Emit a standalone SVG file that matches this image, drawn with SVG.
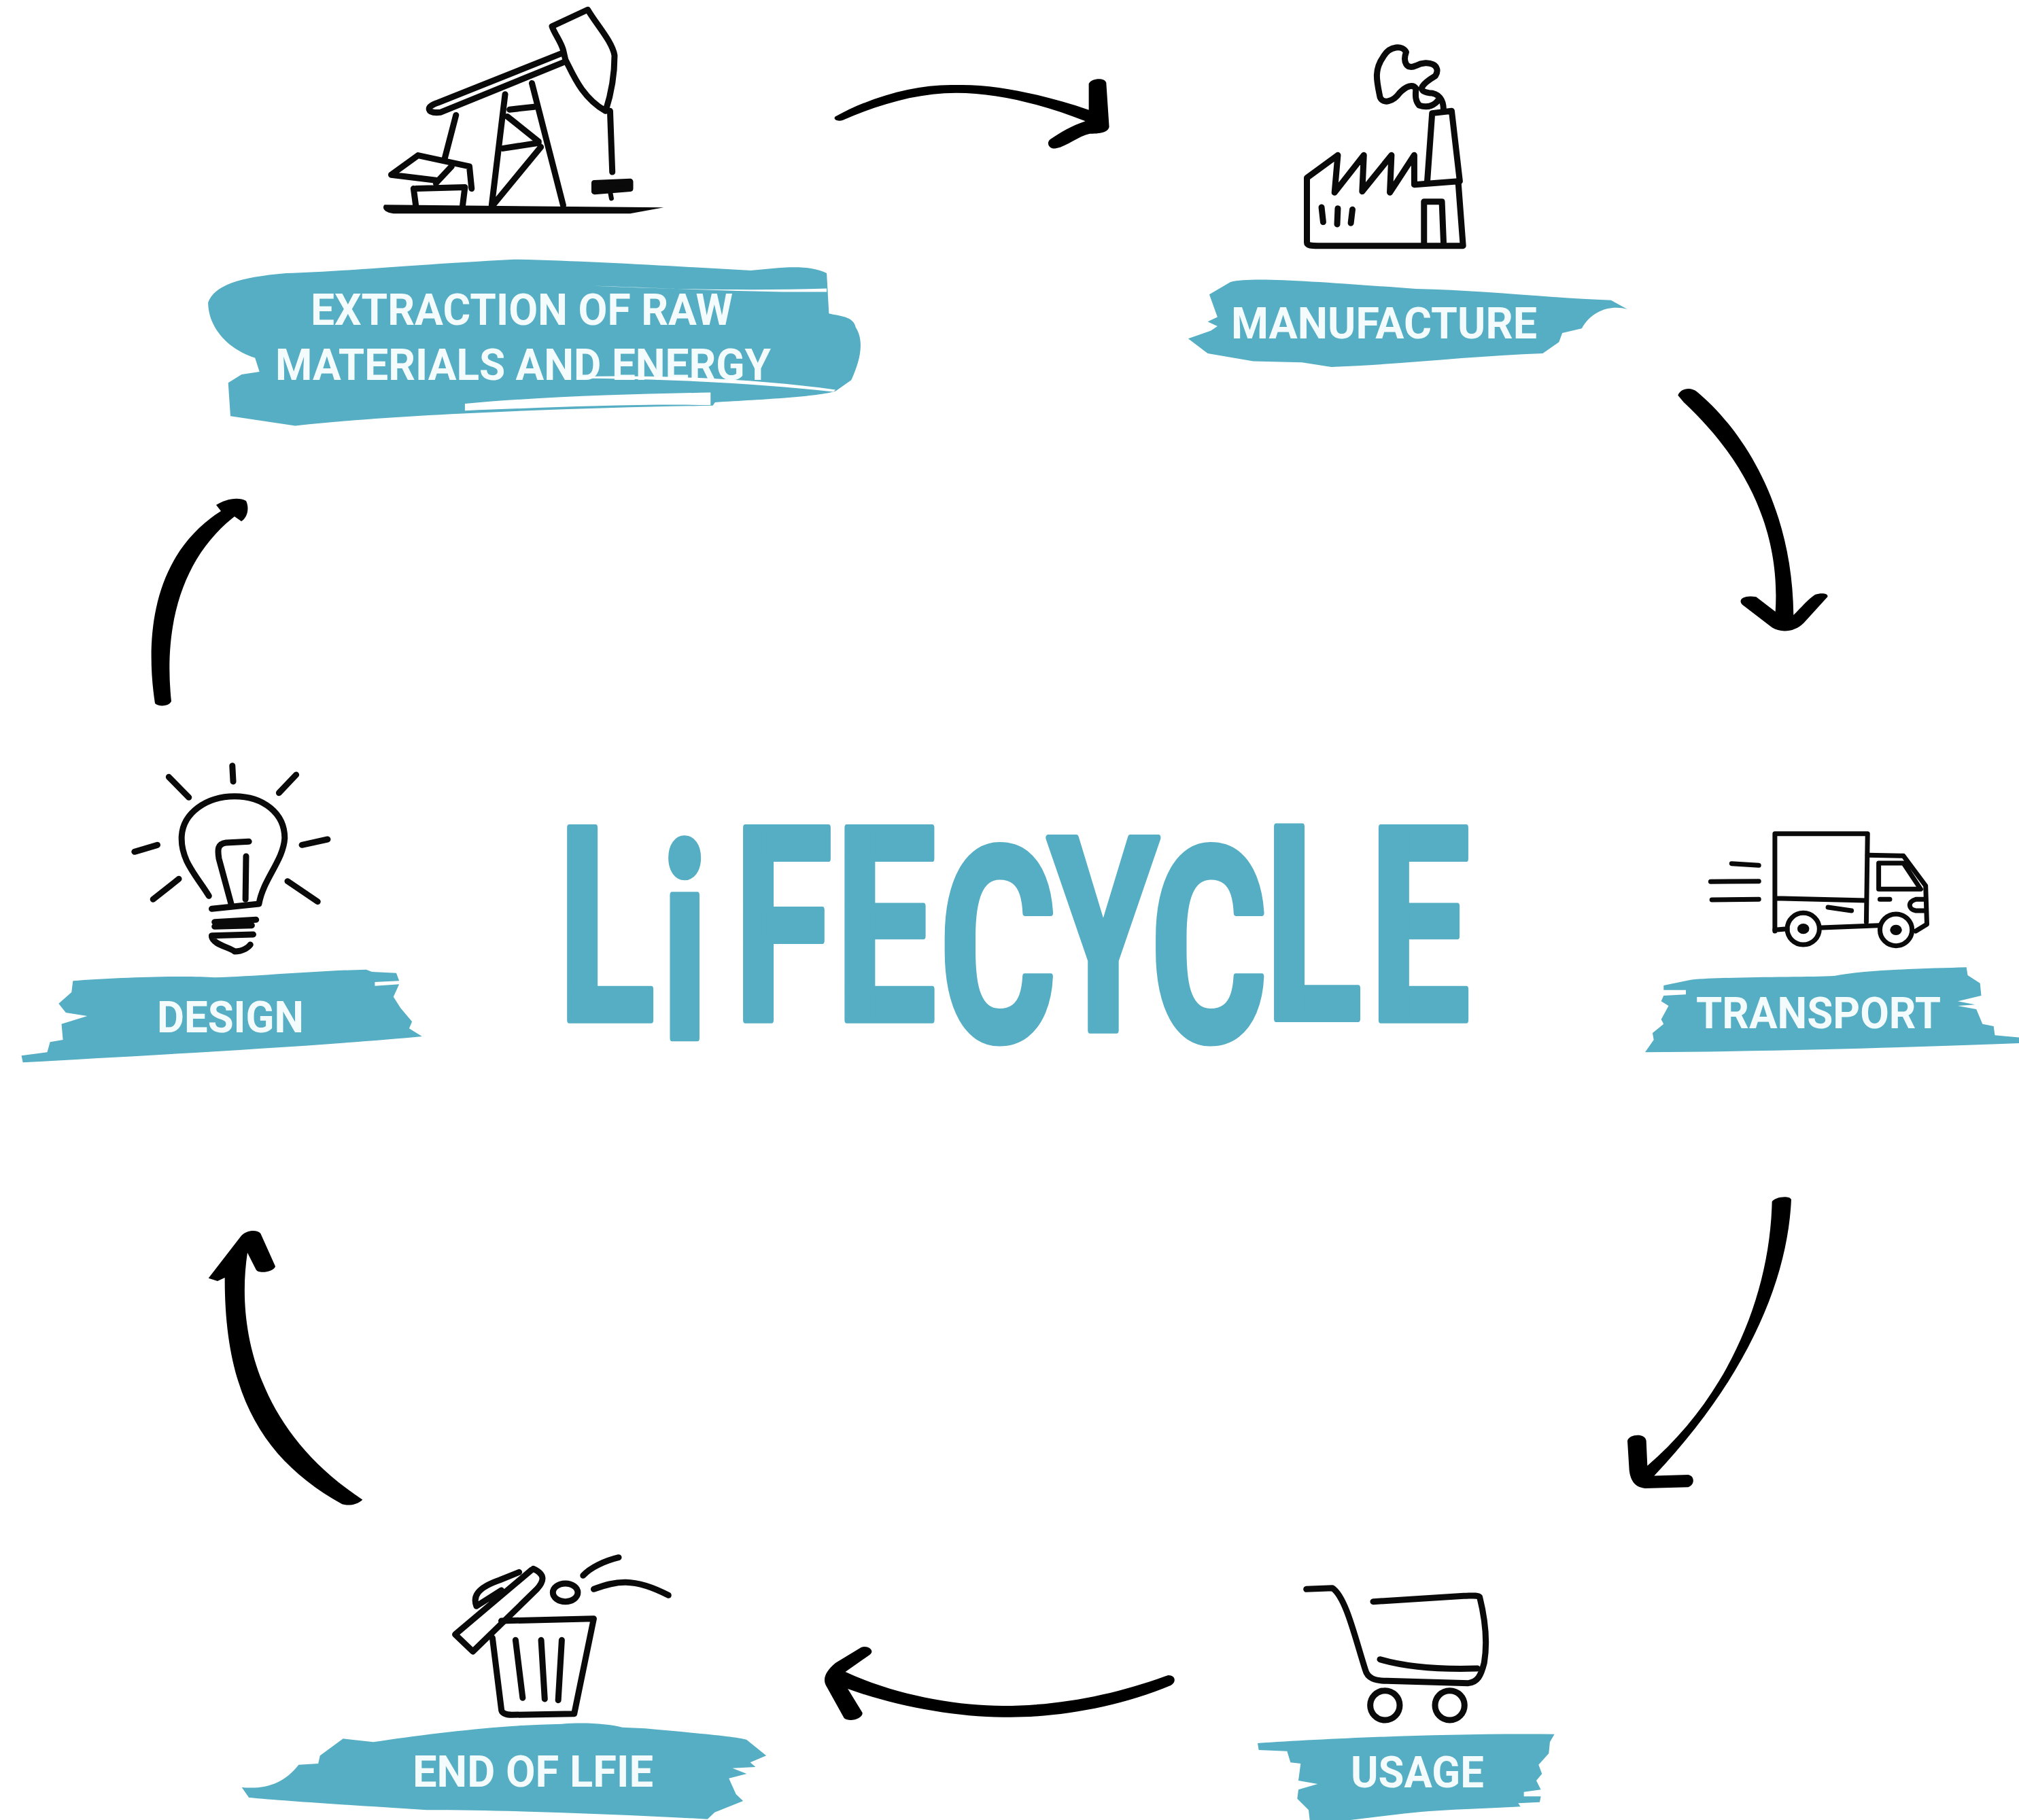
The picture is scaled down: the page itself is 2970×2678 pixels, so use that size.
<svg xmlns="http://www.w3.org/2000/svg" width="2970" height="2678" viewBox="0 0 2970 2678">
<style>
.ink{fill:none;stroke:#0a0a0a;stroke-width:9;stroke-linecap:round;stroke-linejoin:round;vector-effect:non-scaling-stroke}
.thin{stroke-width:7}
.solid{fill:#0a0a0a;stroke:none}
.brush{fill:#55aec3}
.streak{fill:#fff}
.lbl{font-family:Roboto,"Liberation Sans",sans-serif;font-weight:700;font-size:65px;fill:#f4fbfc}
.title{font-family:Roboto,"Liberation Sans",sans-serif;font-weight:700;font-size:240px;letter-spacing:4px;fill:#55aec3;stroke:#55aec3;stroke-width:8;stroke-linejoin:round;vector-effect:non-scaling-stroke}
.arrow{fill:#000}
</style>
<rect width="2970" height="2678" fill="#fff"/>
<g id="connectors">
<g transform="translate(1200,90) scale(.3333)"><path class="arrow" d="M85,245C260,150 450,100 620,105C800,100 1010,150 1205,215L1205,100C1215,75 1275,70 1282,95L1295,290C1290,310 1270,320 1210,320C1160,330 1110,375 1060,385C1030,390 1015,360 1035,345C1080,315 1130,285 1190,265C1000,190 800,140 620,140C450,140 280,190 120,260C100,268 75,260 85,245Z"/></g>
<g transform="translate(2440,550) scale(.3333)"><path class="arrow" d="M85,95C95,65 140,55 170,80C350,230 590,560 595,1065C630,1030 660,995 690,975C720,965 750,970 745,985L640,1100C600,1140 540,1145 500,1120L370,1020C345,995 380,975 430,985L515,1050C530,820 480,470 110,125Z"/></g>
<g transform="translate(2370,1740) scale(.3333)"><path class="arrow" d="M710,85C720,65 785,55 795,75C780,420 610,850 190,1295L340,1290C370,1295 370,1335 340,1345L150,1350C100,1345 85,1310 80,1270L72,1140C80,1110 150,1105 155,1140L160,1250C500,960 700,520 710,85Z"/></g>
<g transform="translate(1190,2400) scale(.3571,.3333)"><path class="arrow" d="M1480,195C1510,195 1515,225 1490,240C1270,340 1000,385 800,380C600,380 350,330 160,255L220,360C225,385 170,405 145,385L70,240C55,210 70,175 110,140L215,72C240,60 275,85 250,105L150,180C350,280 600,330 800,330C1030,330 1260,280 1465,200Z"/></g>
<g transform="translate(290,1790) scale(.3333)"><path class="arrow" d="M730,1250C710,1270 670,1280 640,1270C300,1080 120,800 122,270L90,285L50,272L195,85C215,60 265,55 280,75L345,220C340,245 270,255 260,235L222,160C170,500 270,950 730,1250Z"/></g>
<path class="arrow" d="M228,1035C215,950 218,820 325,752L318,743C330,735 350,730 362,737C366,745 366,760 355,767L345,760C268,820 240,920 252,1032C248,1040 233,1040 228,1035Z"/>
</g>
<g id="node-extraction">
<g transform="translate(270,0) scale(.657,.4082)">
<path class="brush" d="M55,1090C70,1030 120,1000 230,985C350,980 500,955 740,935C900,940 1100,960 1270,975C1330,965 1400,950 1440,985L1445,1130C1470,1140 1500,1140 1505,1180C1525,1230 1515,1300 1495,1370L1460,1410C1420,1430 1300,1440 1190,1450L1185,1462C900,1470 500,1490 250,1535L105,1500L100,1380L130,1350L170,1340L160,1290C100,1260 55,1180 55,1090Z"/>
<path class="streak" d="M915,1030C1050,1040 1250,1050 1440,1040L1440,1052C1300,1055 1100,1040 915,1030Z"/>
<path class="streak" d="M630,1455C800,1430 1000,1420 1180,1415L1180,1460C1000,1455 800,1470 630,1480Z"/>
<path class="ink" d="M825,95L905,35C925,90 960,150 965,200C965,280 955,350 945,400C890,350 870,260 855,215L850,180C845,150 830,120 825,95Z"/>
<path class="ink" d="M850,190L570,370C540,385 545,410 575,405L850,225"/>
<path class="ink" d="M955,400L960,620M720,340L690,740M780,300L850,740M730,395L785,385M725,420L795,510M715,535L795,515M800,530L695,735M610,415L585,570"/>
<path class="ink solid" style="stroke:#0a0a0a" d="M920,660L1000,655L1000,680L920,690Z"/>
<path class="ink thin" d="M955,690L958,715"/>
<path class="ink" d="M465,630L525,560L640,600L645,680M465,630L565,650M515,680L520,740M520,680L630,675L625,740M600,600L565,660"/>
<path class="solid" d="M450,738L1075,748L1000,770L470,770C445,765 445,745 450,738Z"/>
</g>
<text class="lbl" x="457" y="478" textLength="621" lengthAdjust="spacingAndGlyphs">EXTRACTION OF RAW</text>
<text class="lbl" x="405" y="559" textLength="729" lengthAdjust="spacingAndGlyphs">MATERIALS AND ENERGY</text>
<path class="streak" transform="translate(270,0) scale(.657,.4082)" d="M880,1358C1100,1350 1300,1370 1460,1405L1455,1412C1300,1385 1100,1365 880,1364Z"/>
</g>
<g id="node-manufacture">
<g transform="translate(1700,40) scale(.4785,.3333)">
<path class="brush" d="M230,1125C300,1100 500,1125 800,1155C1000,1160 1200,1195 1400,1205L1450,1245C1400,1225 1340,1250 1310,1330L1250,1350L1240,1390L1190,1440C1000,1450 800,1480 620,1495L540,1500L450,1480L300,1475L160,1440L100,1375L170,1340L190,1320L160,1300L190,1280L165,1180Z"/>
<path class="ink" d="M885,365C885,320 870,290 840,290C800,280 820,250 860,215C880,170 840,140 800,170C770,190 760,150 770,110C760,80 720,80 700,130C670,190 680,240 690,310C700,340 730,330 750,290C770,260 790,250 800,270C800,290 795,320 810,345C840,360 860,340 870,320"/>
<path class="ink" d="M835,680L850,380L910,370L935,680"/>
<path class="ink" d="M465,665L465,950C465,965 480,965 500,965L945,965L930,680L795,695L795,565L720,730L725,565L635,725L640,565L550,730L560,565L465,665"/>
<path class="ink" d="M825,960L825,770L880,770L885,950"/>
<path class="ink" d="M510,795L515,860M560,800L558,870M605,805L600,865"/>
</g>
<text class="lbl" x="1811" y="498" textLength="450" lengthAdjust="spacingAndGlyphs">MANUFACTURE</text>
</g>
<g id="node-transport">
<g transform="translate(2400,1180) scale(.3636,.3333)">
<path class="brush" d="M240,785C400,770 700,775 820,768C950,740 1200,735 1355,730L1360,765L1410,800L1415,855L1320,880L1390,895L1320,900L1395,915L1420,980L1465,990L1470,1030L1568,1040L1568,1065C1200,1080 700,1100 55,1105L90,1050L85,1020L130,980L120,960L150,900L120,880L130,855L220,850L220,830L130,830L130,810Z"/>
<path class="ink thin" d="M580,570L580,140L955,140L950,530M580,425L950,435"/>
<path class="ink thin" d="M955,235L1100,238L1190,370L1195,540L1150,570M1000,270L1100,270L1170,385L1000,385Z"/>
<path class="ink thin" d="M580,565L630,560M770,555L1000,545"/>
<ellipse class="ink thin" cx="695" cy="560" rx="65" ry="70"/><ellipse class="ink thin" cx="1070" cy="565" rx="65" ry="70"/>
<ellipse class="solid" cx="695" cy="560" rx="24" ry="23"/><ellipse class="solid" cx="1070" cy="565" rx="24" ry="23"/>
<path class="ink thin" d="M405,272L515,280M320,352L515,350M325,432L515,430M795,465L890,480M1005,430L1045,430"/>
<path class="ink thin" d="M1190,430L1150,430C1115,440 1120,475 1150,480L1190,480"/>
</g>
<text class="lbl" x="2495" y="1513" textLength="360" lengthAdjust="spacingAndGlyphs">TRANSPORT</text>
</g>
<g id="node-usage">
<g transform="translate(1820,2300) scale(.3333)">
<path class="brush" d="M90,795C400,775 900,750 1400,755L1380,790L1375,840L1330,890L1345,930L1320,960L1340,1000L1265,1010L1265,1030L1340,1030L1335,1055L1240,1060L1250,1075C1100,1085 900,1085 700,1110L500,1134L320,1134L315,1090L265,1040L270,1000L355,975L270,960L280,885L235,880L220,830L95,825Z"/>
<path class="ink" d="M305,115L420,110C480,150 520,330 565,470C575,510 610,520 660,520L1020,530C1060,525 1075,500 1090,440C1105,350 1095,250 1070,150C1060,140 1030,145 1000,145L600,170"/>
<path class="ink" d="M630,425C750,460 900,470 1060,465"/>
<circle class="ink" cx="652" cy="628" r="65"/><circle class="ink" cx="938" cy="628" r="65"/>
</g>
<text class="lbl" x="1987" y="2630" textLength="196" lengthAdjust="spacingAndGlyphs">USAGE</text>
</g>
<g id="node-end-of-life">
<g transform="translate(340,2260) scale(.523,.3333)">
<path class="brush" d="M315,895L400,910C550,875 750,835 930,830C1000,822 1060,830 1100,845L1165,850C1300,870 1420,885 1450,900L1505,970L1460,1000L1475,1020L1410,1025L1450,1050L1400,1070L1420,1140L1440,1170L1360,1220L1340,1250C1100,1230 800,1210 550,1210C350,1190 150,1170 50,1155L30,1110C100,1120 150,1090 190,1010L245,1005L250,970Z"/>
<path class="ink" d="M760,375L1020,365L965,785L790,790C770,790 760,780 760,765L735,450"/>
<path class="ink" d="M800,460L820,715M872,460L882,720M930,460L920,725"/>
<path class="ink" d="M850,145C885,170 880,200 860,235L680,510L630,435L845,150M810,160L755,195C690,230 680,270 690,310L760,240"/>
<ellipse class="ink" cx="940" cy="250" rx="35" ry="40"/>
<path class="ink" d="M990,175C1010,140 1050,110 1090,95M1020,235C1080,200 1130,180 1230,262"/>
</g>
<text class="lbl" x="607" y="2629" textLength="354" lengthAdjust="spacingAndGlyphs">END OF LFIE</text>
</g>
<g id="node-design">
<g transform="translate(0,1100) scale(.4209,.3333)">
<path class="brush" d="M255,1030C400,1015 650,1005 750,1015C900,1010 1100,985 1280,980L1300,990L1385,995L1395,1030L1310,1035L1310,1052L1395,1045L1375,1100L1400,1150L1440,1210L1430,1240L1475,1275C1100,1320 500,1360 80,1390L75,1360L165,1345L175,1300L220,1290L215,1220L305,1185L230,1170L205,1130L250,1080Z"/>
<path class="ink" d="M812,80L815,150M590,130L660,220M1035,120L975,200M470,460L550,430M1055,430L1145,405M535,670L625,580M1005,590L1110,680"/>
<path class="ink" d="M730,655C690,570 630,500 635,390C640,290 720,215 820,215C920,215 995,290 995,400C990,500 920,580 905,690L740,712"/>
<path class="ink" d="M870,415L790,420C760,425 760,450 765,490L810,700M860,480L858,670"/>
<path class="ink" d="M750,770L895,760M750,790L880,785M740,830L885,825M740,835C745,870 800,880 820,900C850,900 870,880 875,870"/>
</g>
<text class="lbl" x="231" y="1519" textLength="216" lengthAdjust="spacingAndGlyphs">DESIGN</text>
</g>
<g id="title">
<text class="title" transform="translate(0,1501) scale(1.1,1.66)" x="746" y="0" dx="0 4 30 0 0 -16 -12 -8 6" dy="0 16 -16 0 18 -9 9 -19 1">LiFECYCLE</text>
</g>
</svg>
